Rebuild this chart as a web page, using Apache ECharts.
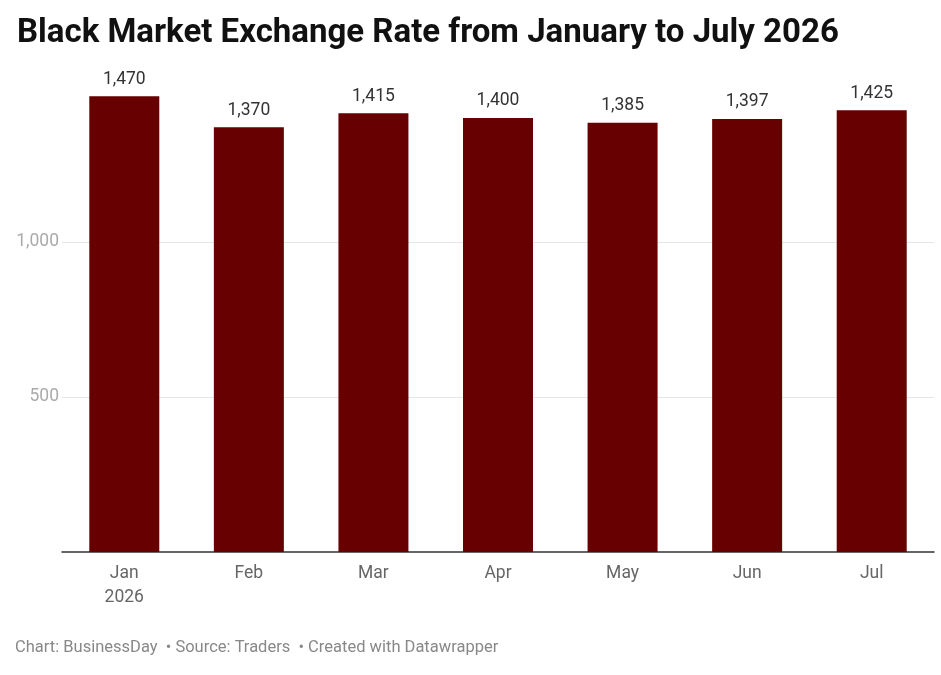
<!DOCTYPE html>
<html>
<head>
<meta charset="utf-8">
<script src="https://cdn.jsdelivr.net/npm/echarts@6/dist/echarts.min.js"></script>
<style>
html, body { margin: 0; padding: 0; background: #fff; }
#chart { width: 941px; height: 675px; }
</style>
</head>
<body>
<div id="chart"></div>
<script>
var months = ['Jan\n2026', 'Feb', 'Mar', 'Apr', 'May', 'Jun', 'Jul'];
var rates = [1470, 1370, 1415, 1400, 1385, 1397, 1425];
var yTicks = [500, 1000];

var myChart = echarts.init(document.getElementById('chart'));
var fmt = function (v) { return v.toLocaleString('en-US'); };

option = {
    backgroundColor: '#fff',
    animation: false,
    textStyle: { fontFamily: 'Roboto' },
    title: {
        text: 'Black Market Exchange Rate from January to July 2026',
        left: 12,
        top: 12,
        textStyle: { fontFamily: 'Roboto', fontWeight: 'bold', fontSize: 33, color: '#111' }
    },
    graphic: [{
        type: 'text',
        left: 15,
        top: 639,
        style: {
            text: 'Chart: BusinessDay  \u2022 Source: Traders  \u2022 Created with Datawrapper',
            font: '16.5px Roboto',
            fill: '#888'
        }
    }],
    grid: { left: 62, right: 7, top: 87, bottom: 123 },
    xAxis: {
        type: 'category',
        data: months,
        axisLine: { lineStyle: { color: '#333', width: 1.5 } },
        axisTick: { show: false },
        axisLabel: { color: '#666', fontSize: 17.5, margin: 10, lineHeight: 24 }
    },
    yAxis: {
        type: 'value',
        min: 0,
        max: 1500,
        interval: 500,
        axisLine: { show: false },
        axisTick: { show: false },
        axisLabel: {
            color: '#aaa',
            fontSize: 17.5,
            margin: 3,
            formatter: function (v) { return yTicks.indexOf(v) >= 0 ? fmt(v) : ''; }
        },
        splitLine: { lineStyle: { color: ['rgba(0,0,0,0)', '#e6e6e6', '#e6e6e6', 'rgba(0,0,0,0)'] } }
    },
    series: [{
        type: 'bar',
        data: rates,
        barWidth: 70,
        itemStyle: { color: '#670000' },
        label: {
            show: true,
            position: 'top',
            distance: 8,
            color: '#333',
            fontSize: 17.5,
            formatter: function (p) { return fmt(p.value); }
        }
    }]
};

myChart.setOption(option);
</script>
</body>
</html>
